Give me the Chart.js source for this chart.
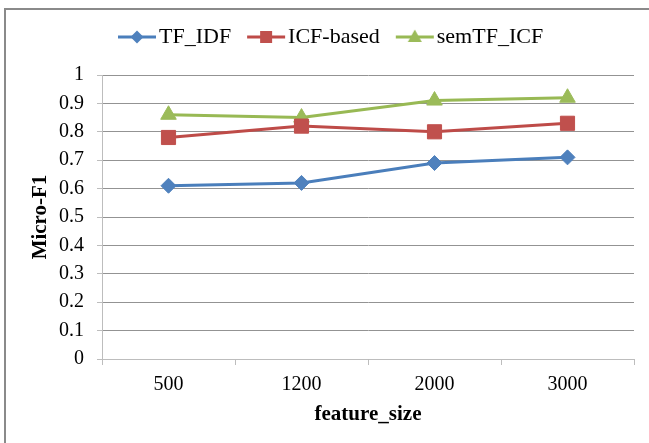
<!DOCTYPE html>
<html>
<head>
<meta charset="utf-8">
<script src="https://cdn.jsdelivr.net/npm/chart.js@4/dist/chart.umd.min.js"></script>
<style>
  html, body { margin: 0; padding: 0; background: #fff; width: 649px; height: 443px; overflow: hidden; }
  #frame { position: absolute; left: 4px; top: 8px; width: 700px; height: 500px;
           border-top: 2px solid #8a8a8a; border-left: 2px solid #8a8a8a; }
  #c { position: absolute; left: 0; top: 0; }
</style>
</head>
<body>
<div id="frame"></div>
<canvas id="c" width="649" height="443"></canvas>
<script>
// Categories and series values
const featureSizes = ['500', '1200', '2000', '3000'];
const tfIdf    = [0.61, 0.62, 0.69, 0.71];
const icfBased = [0.78, 0.82, 0.80, 0.83];
const semTfIcf = [0.86, 0.85, 0.91, 0.92];
const seriesNames = ['TF_IDF', 'ICF-based', 'semTF_ICF'];
const yTickLabels = ['0', '0.1', '0.2', '0.3', '0.4', '0.5', '0.6', '0.7', '0.8', '0.9', '1'];

const SERIF = "'Liberation Serif', 'Times New Roman', serif";
const lineColors   = ['#4A7EBB', '#BE4B48', '#98B954'];
const markerColors = ['#4F81BD', '#C0504D', '#9BBB59'];
const markerShapes = ['rectRot', 'rect', 'triangle'];
const markerRadius = [7.5, 10, 9];

// Small "line with marker" icons for the legend
function legendIcon(i) {
  const cv = document.createElement('canvas');
  cv.width = 40; cv.height = 18;
  const g = cv.getContext('2d');
  const cy = 9, cx = 20;
  g.strokeStyle = lineColors[i];
  g.lineWidth = 3;
  g.beginPath(); g.moveTo(1, cy); g.lineTo(39, cy); g.stroke();
  g.fillStyle = markerColors[i];
  g.beginPath();
  if (i === 0) {
    g.moveTo(cx - 6.5, cy); g.lineTo(cx, cy - 6.5); g.lineTo(cx + 6.5, cy); g.lineTo(cx, cy + 6.5);
  } else if (i === 1) {
    g.rect(cx - 6, cy - 6, 12, 12);
  } else {
    g.moveTo(cx, cy - 7.5); g.lineTo(cx + 7, cy + 5); g.lineTo(cx - 7, cy + 5);
  }
  g.closePath(); g.fill();
  return cv;
}
const legendIcons = [0, 1, 2].map(legendIcon);

function makeDataset(i, values) {
  return {
    label: seriesNames[i],
    data: values,
    borderColor: lineColors[i],
    backgroundColor: markerColors[i],
    borderWidth: 3,
    pointStyle: markerShapes[i],
    pointRadius: markerRadius[i],
    pointHoverRadius: markerRadius[i],
    pointBackgroundColor: markerColors[i],
    pointBorderColor: markerColors[i],
    pointBorderWidth: 1,
    tension: 0,
    fill: false
  };
}

new Chart(document.getElementById('c'), {
  type: 'line',
  data: {
    labels: featureSizes,
    datasets: [
      makeDataset(0, tfIdf),
      makeDataset(1, icfBased),
      makeDataset(2, semTfIcf)
    ]
  },
  options: {
    responsive: false,
    animation: false,
    devicePixelRatio: 1,
    layout: { padding: { left: 0, right: 15, top: 2, bottom: 0 } },
    plugins: {
      tooltip: { enabled: false },
      legend: {
        position: 'top',
        align: 'start',
        fullSize: false,
        labels: {
          usePointStyle: true,
          pointStyleWidth: 22,
          padding: 24,
          color: '#000',
          font: { family: SERIF, size: 22 },
          generateLabels(chart) {
            const items = Chart.defaults.plugins.legend.labels.generateLabels(chart);
            items.forEach((it, i) => { it.pointStyle = legendIcons[i]; });
            return items;
          }
        }
      },
      // blank spacer between the legend and the plot
      title: {
        display: true,
        text: ' ',
        position: 'top',
        weight: 500,
        font: { size: 10 },
        padding: { top: 0, bottom: 5 }
      }
    },
    scales: {
      x: {
        type: 'category',
        offset: true,
        afterFit(scale) { scale.height = 84; },
        grid: {
          offset: true,
          drawOnChartArea: false,
          drawTicks: true,
          tickLength: 6,
          tickColor: '#bdbdbd',
          color: '#bdbdbd'
        },
        border: { display: true, color: '#bdbdbd', width: 1 },
        ticks: {
          color: '#000',
          padding: 8,
          maxRotation: 0,
          font: { family: SERIF, size: 20 }
        },
        title: {
          display: true,
          text: 'feature_size',
          color: '#000',
          font: { family: SERIF, size: 21, weight: 'bold' },
          padding: { top: 0, bottom: 16 }
        }
      },
      y: {
        min: 0,
        max: 1,
        afterFit(scale) { scale.width = 102; },
        grid: {
          color: '#939393',
          lineWidth: 1,
          drawTicks: true,
          tickLength: 5,
          tickColor: '#bdbdbd'
        },
        border: { display: true, color: '#bdbdbd', width: 1 },
        ticks: {
          stepSize: 0.1,
          color: '#000',
          padding: 13,
          font: { family: SERIF, size: 20 },
          callback: (v, i) => yTickLabels[i]
        },
        title: {
          display: true,
          text: 'Micro-F1',
          color: '#000',
          font: { family: SERIF, size: 21, weight: 'bold' },
          padding: { top: 28, bottom: 0 }
        }
      }
    }
  }
});
</script>
</body>
</html>
